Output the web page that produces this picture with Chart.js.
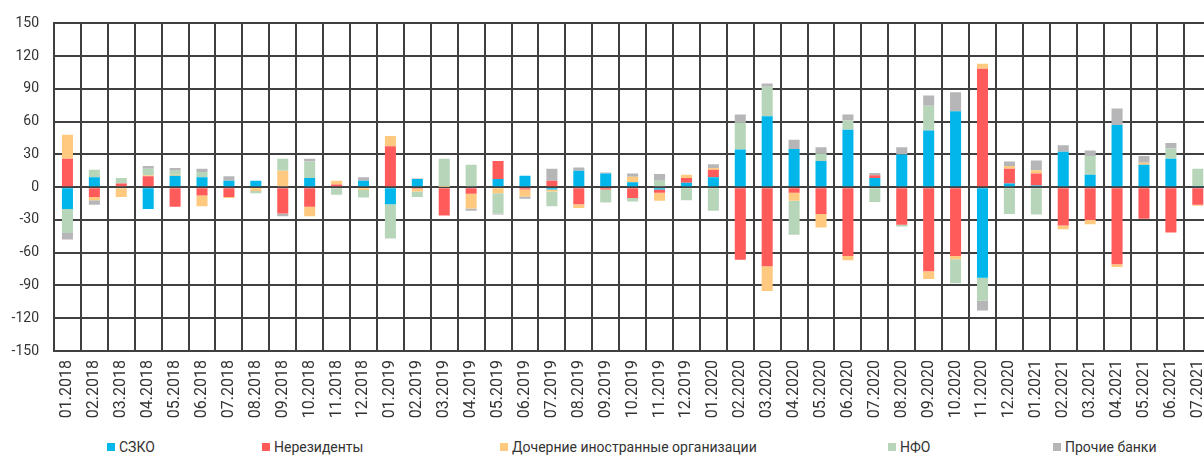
<!DOCTYPE html>
<html>
<head>
<meta charset="utf-8">
<script src="https://cdn.jsdelivr.net/npm/chart.js@4/dist/chart.umd.min.js"></script>
<style>
    html, body { margin: 0; padding: 0; background: #fff; overflow: hidden; }
    #wrap { position: relative; width: 1226px; height: 457px; }
    #legend { position: absolute; left: 0; top: 439px; width: 1204px; height: 18px;
              font-family: Roboto, sans-serif; font-size: 14px; color: #333; }
    #legend span { position: absolute; top: 0; white-space: nowrap; }
    #legend i { display: inline-block; width: 8px; height: 8px; margin-right: 4px; vertical-align: 1px; }
</style>
</head>
<body>
<div id="wrap">
    <canvas id="c" width="1226" height="437"></canvas>
    <div id="legend"></div>
</div>
<script>
'use strict';
// ---------- data ----------
const months = [
    '01.2018','02.2018','03.2018','04.2018','05.2018','06.2018','07.2018','08.2018','09.2018','10.2018','11.2018','12.2018',
    '01.2019','02.2019','03.2019','04.2019','05.2019','06.2019','07.2019','08.2019','09.2019','10.2019','11.2019','12.2019',
    '01.2020','02.2020','03.2020','04.2020','05.2020','06.2020','07.2020','08.2020','09.2020','10.2020','11.2020','12.2020',
    '01.2021','02.2021','03.2021','04.2021','05.2021','06.2021','07.2021',
];
const szko = [-20, 9, 0, -20, 10.5, 9, 6, 6, 0, 8.5, 0, 6,
    -15.5, 7.5, 0, 0, 7.5, 10.5, -2, 15, 12.5, 4.5, -2, 4,
    9, 34.5, 65, 35, 24, 52.5, 8.5, 30, 52, 69.5, -83, 3.5,
    1.5, 32.5, 11.5, 57, 20.5, 26, 1];
const nonres = [26, -9, 3.5, 10, -18, -7.5, -9, 0, -24, -18, 2.5, 0,
    37.5, -1.5, -26, -6, 16.5, -2, 6, -15.5, -2, -10, -3, 4.5,
    7, -66.5, -72.5, -5, -24.5, -63, 2.5, -34.5, -77, -63, 108.5, 13.5,
    11, -35, -30, -70.5, -29, -41.5, -16];
const subsidiaries = [22, -3, -9, 1, 1, -10, -1, -3.5, 15, -8.5, 3.5, -2.5,
    9.5, -2.5, 0.5, -13.5, -5.5, -6.5, -2, -3.5, 0, 5, -7.5, 3,
    1.5, 0, -22.5, -7.5, -12.5, -4, 0, 0, -7, -3, 4.5, 2.5,
    3, -3.5, -4, -2.5, 2, 0, -1];
const nfo = [-22, 7, 5, 6, 3.5, 5, 0, -2, 11, 15, -7, -7,
    -31.5, -5, 25.5, 20.5, -18.5, 0, -13.5, 0, -12, -3, 6, -12,
    -21.5, 25, 27, -31, 7, 8.5, -13.5, -1.5, 22.5, -22, -21, -24.5,
    -25, 0, 17, 0, 0, 9.5, 16];
const otherBanks = [-6, -4, 0, 2.5, 2.5, 3, 4, 0, -2.5, 2.5, 0, 3,
    0, 0.5, 0, -2, -1, -2, 11, 3, 1, 3, 6, 0,
    3.5, 7, 3, 8.5, 5.5, 5.5, 2, 6.5, 9.5, 17.5, -9, 4,
    9, 6, 5, 15, 6, 5, 0];

const seriesNames  = ['СЗКО', 'Нерезиденты', 'Дочерние иностранные организации', 'НФО', 'Прочие банки'];
const seriesColors = ['#00b6ea', '#ff5b5b', '#ffca80', '#b7d5b9', '#b6b6b8'];
const legendLeft   = [107, 262, 500, 888, 1053];

const seriesData = [szko, nonres, subsidiaries, nfo, otherBanks];
const GRID = '#404040';

new Chart(document.getElementById('c'), {
    type: 'bar',
    data: {
        labels: months,
        datasets: seriesData.map((d, i) => ({
            label: seriesNames[i],
            data: d,
            backgroundColor: seriesColors[i],
            borderWidth: 0,
            categoryPercentage: 1,
            barPercentage: 0.41,
        })),
    },
    options: {
        responsive: false,
        animation: false,
        layout: { padding: { top: 20, left: 0, right: 0, bottom: 0 } },
        plugins: { legend: { display: false }, tooltip: { enabled: false } },
        scales: {
            x: {
                stacked: true,
                grid: { color: GRID, lineWidth: 2, drawTicks: false, offset: true },
                border: { color: GRID, width: 2 },
                ticks: {
                    minRotation: 90, maxRotation: 90, autoSkip: false, padding: 9,
                    color: '#333', font: { family: 'Roboto, sans-serif', size: 16 },
                },
                afterFit: s => { s.height = 86; },
            },
            y: {
                stacked: true,
                min: -150, max: 150,
                grid: { color: GRID, lineWidth: 2, drawTicks: false },
                border: { color: GRID, width: 2 },
                ticks: {
                    stepSize: 30, padding: 15,
                    color: '#333', font: { family: 'Roboto, sans-serif', size: 14 },
                },
                afterFit: s => { s.width = 54; },
            },
        },
    },
});

// Legend laid out as in the source (uneven slots)
const legend = document.getElementById('legend');
seriesNames.forEach((name, i) => {
    const el = document.createElement('span');
    el.style.left = legendLeft[i] + 'px';
    el.innerHTML = `<i style="background:${seriesColors[i]}"></i>${name}`;
    legend.appendChild(el);
});
</script>
</body>
</html>
